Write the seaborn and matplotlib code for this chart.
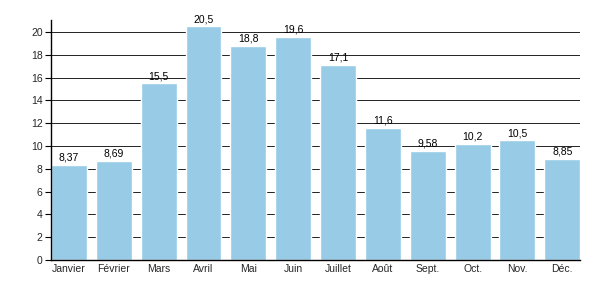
import matplotlib
matplotlib.use("Agg")
import matplotlib.pyplot as plt
import seaborn as sns
import pandas as pd

months = ["Janvier", "Février", "Mars", "Avril", "Mai", "Juin", "Juillet",
          "Août", "Sept.", "Oct.", "Nov.", "Déc."]
values = [8.37, 8.69, 15.5, 20.5, 18.8, 19.6, 17.1, 11.6, 9.58, 10.2, 10.5, 8.85]
labels = ["8,37", "8,69", "15,5", "20,5", "18,8", "19,6", "17,1", "11,6",
          "9,58", "10,2", "10,5", "8,85"]
yticks = [0, 2, 4, 6, 8, 10, 12, 14, 16, 18, 20]

sns.set_style("white")
plt.rcParams['font.family'] = ['Liberation Sans', 'DejaVu Sans']

df = pd.DataFrame({"month": months, "value": values})
fig = plt.figure(figsize=(6, 3), dpi=100)
ax = fig.add_axes([0.085, 0.1333, 0.882, 0.8])
sns.barplot(data=df, x="month", y="value", color="#97CBE6", saturation=1,
            width=0.8, ax=ax, zorder=2)
ax.set_xlim(-0.4, 11.4)
ax.set_ylim(0, 21.05)
ax.set_yticks(yticks)
ax.set_yticklabels([str(t) for t in yticks], fontsize=7.5)
ax.tick_params(axis='y', length=4, width=0.8, color='black', pad=2, left=True)
ax.tick_params(axis='x', length=0, labelsize=7.5, pad=3)
ax.set_xlabel("")
ax.set_ylabel("")
for t in yticks[1:]:
    ax.axhline(t, color='#222222', lw=0.7, zorder=1)
for s in ['top', 'right']:
    ax.spines[s].set_visible(False)
for s in ['left', 'bottom']:
    ax.spines[s].set_color('black')
    ax.spines[s].set_linewidth(1.0)
    ax.spines[s].set_zorder(3)
for i, (v, l) in enumerate(zip(values, labels)):
    ax.text(i, v + 0.2, l, ha='center', va='bottom', fontsize=7.5, color='black')
fig.savefig("out.png", dpi=100)
